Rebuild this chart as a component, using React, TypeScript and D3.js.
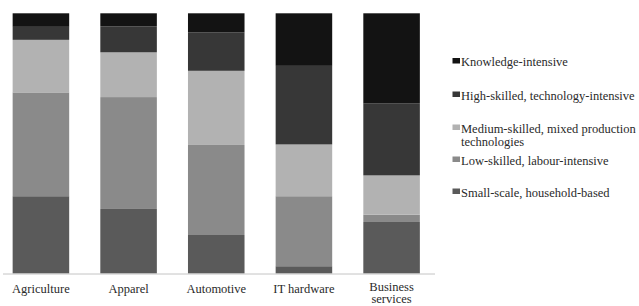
import React from 'react';
import * as d3 from 'd3';

const width = 639;
const height = 306;

const categories = ['Agriculture', 'Apparel', 'Automotive', 'IT hardware', 'Business services'];
const seriesNames = [
  'Small-scale, household-based',
  'Low-skilled, labour-intensive',
  'Medium-skilled, mixed production technologies',
  'High-skilled, technology-intensive',
  'Knowledge-intensive',
];
// shares in percent, one value per category
const smallScale = [29.7, 24.8, 14.8, 2.8, 19.8];
const lowSkilled = [39.9, 43.0, 34.6, 26.9, 2.8];
const mediumSkilled = [20.2, 17.2, 28.5, 19.9, 15.1];
const highSkilled = [5.0, 10.0, 14.8, 30.2, 27.6];
const knowledge = [5.2, 5.0, 7.3, 20.2, 34.7];

const colors = ['#5a5a5a', '#8a8a8a', '#b2b2b2', '#373737', '#131313'];

// legend order top to bottom, label lines
const legendOrder = [4, 3, 2, 1, 0];
const legendLines = [
  ['Knowledge-intensive'],
  ['High-skilled, technology-intensive'],
  ['Medium-skilled, mixed production', 'technologies'],
  ['Low-skilled, labour-intensive'],
  ['Small-scale, household-based'],
];
const legendBaselines = [66, 99.5, 132.5, 164.5, 196.5];

const rows = categories.map((c, i) => ({
  category: c,
  s0: smallScale[i],
  s1: lowSkilled[i],
  s2: mediumSkilled[i],
  s3: highSkilled[i],
  s4: knowledge[i],
}));

const keys = ['s0', 's1', 's2', 's3', 's4'];

const x = d3
  .scaleBand()
  .domain(categories)
  .range([3, 429.5])
  .paddingInner(0.355)
  .paddingOuter(0.11);

const y = d3.scaleLinear().domain([0, 100]).range([273.5, 13.3]);

const stacked = d3.stack().keys(keys)(rows as any);

const font = '"Liberation Serif", "Times New Roman", serif';

const App = () => {
  return (
    <svg
      width={width}
      height={height}
      style={{ position: 'absolute', left: 0, top: 0, background: '#fff' }}
      fontFamily={font}
    >
      {stacked.map((layer, li) => (
        <g key={li} fill={colors[li]}>
          {layer.map((d, i) => (
            <rect
              key={i}
              x={x(categories[i])}
              y={y(d[1])}
              width={x.bandwidth()}
              height={y(d[0]) - y(d[1])}
            />
          ))}
        </g>
      ))}
      <line x1={3} x2={435} y1={274} y2={274} stroke="#c4c4c4" strokeWidth={1} />
      {categories.map((c, i) => {
        const parts = c === 'Business services' ? ['Business', 'services'] : [c];
        return (
          <text
            key={i}
            x={(x(c) as number) + x.bandwidth() / 2}
            y={parts.length > 1 ? 290.5 : 292.5}
            textAnchor="middle"
            fontSize={12.5}
            fill="#2a2a2a"
          >
            {parts.map((p, j) => (
              <tspan key={j} x={(x(c) as number) + x.bandwidth() / 2} dy={j === 0 ? 0 : 12.5}>
                {p}
              </tspan>
            ))}
          </text>
        );
      })}
      {legendOrder.map((si, i) => (
        <g key={si}>
          <rect x={452.5} y={legendBaselines[i] - 8} width={7.5} height={5.5} fill={colors[si]} />
          <text x={461} y={legendBaselines[i]} fontSize={12.5} fill="#2a2a2a">
            {legendLines[i].map((l, j) => (
              <tspan key={j} x={461} dy={j === 0 ? 0 : 13}>
                {l}
              </tspan>
            ))}
          </text>
        </g>
      ))}
    </svg>
  );
};

export default App;
